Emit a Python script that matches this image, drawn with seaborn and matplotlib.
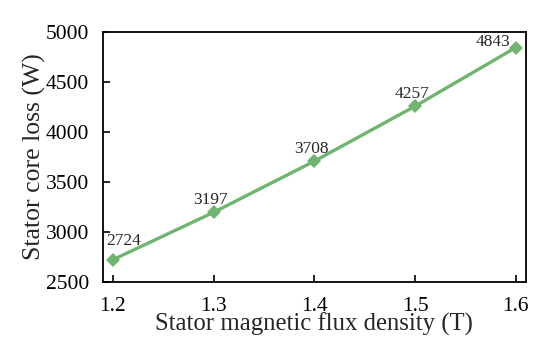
import numpy as np
import pandas as pd
import seaborn as sns
import matplotlib.pyplot as plt

flux_density = [1.2, 1.3, 1.4, 1.5, 1.6]
core_loss = [2724, 3197, 3708, 4257, 4843]

sns.set_style("ticks")
plt.rcParams['font.family'] = ['Liberation Serif', 'DejaVu Serif']
plt.rcParams['xtick.direction'] = 'in'
plt.rcParams['ytick.direction'] = 'in'

data = pd.DataFrame({'B': flux_density, 'P': core_loss})

fig = plt.figure(figsize=(5.5, 3.5), dpi=100)
ax = fig.add_axes([0.187, 0.194, 0.769, 0.715])
sns.lineplot(x='B', y='P', data=data, ax=ax, color='#6fb46f', linewidth=2.4,
             marker='D', markersize=7.5, markeredgewidth=0)

# value labels: first one pushed right of the spine, last one left of the point
for i, (x, y) in enumerate(zip(flux_density, core_loss)):
    if i == 0:
        ax.annotate(str(y), (x, y), xytext=(-5, 8), textcoords='offset points',
                    ha='left', va='bottom', fontsize=12.5)
    elif i == len(core_loss) - 1:
        ax.annotate(str(y), (x, y), xytext=(-4, -2), textcoords='offset points',
                    ha='right', va='bottom', fontsize=12.5)
    else:
        ax.annotate(str(y), (x, y), xytext=(-2, 3), textcoords='offset points',
                    ha='center', va='bottom', fontsize=12.5)

ax.set_xlim(1.19, 1.61)
ax.set_ylim(2500, 5000)
ax.set_xticks(flux_density)
ax.set_yticks(np.arange(2500, 5001, 500))
ax.set_xlabel('Stator magnetic flux density (T)', fontsize=17.8, labelpad=-2)
ax.set_ylabel('Stator core loss (W)', fontsize=18.5, labelpad=0)
ax.tick_params(labelsize=15.5, width=1.2, length=5, colors='black', pad=10)
ax.tick_params(axis='x', pad=10.5)
for s in ax.spines.values():
    s.set_linewidth(1.3)
    s.set_color('black')

plt.savefig('out.png', dpi=100)
plt.close()
